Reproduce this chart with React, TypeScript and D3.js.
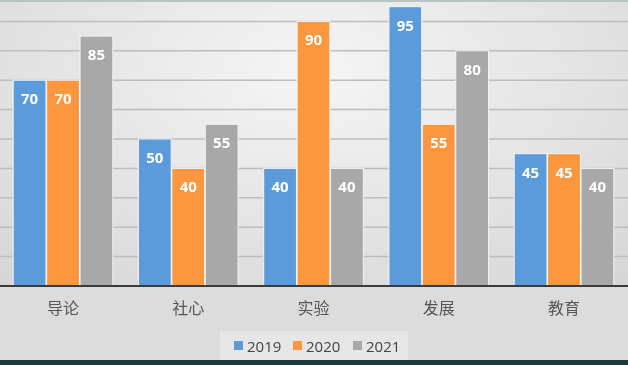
import React, { useEffect, useRef } from "react"
import * as d3 from "d3"

const W = 628
const H = 365

const categories = ["导论", "社心", "实验", "发展", "教育"]
const seriesNames = ["2019", "2020", "2021"]
const values2019 = [70, 50, 40, 95, 45]
const values2020 = [70, 40, 90, 55, 45]
const values2021 = [85, 55, 40, 80, 40]
const gridTicks = [10, 20, 30, 40, 50, 60, 70, 80, 90]

const colors = ["#5B9BDC", "#FC9740", "#A8A8A8"]

const App = () => {
	const svgRef = useRef(null)

	useEffect(() => {
		document.body.style.margin = "0"
		const svg = d3.select(svgRef.current)
		svg.selectAll("*").remove()

		const allSeries = [values2019, values2020, values2021]
		const baseY = 286

		// background
		const defs = svg.append("defs")
		const grad = defs.append("radialGradient")
			.attr("id", "bg")
			.attr("cx", "50%").attr("cy", "20%").attr("r", "75%")
		grad.append("stop").attr("offset", "0%").attr("stop-color", "#f5f5f5")
		grad.append("stop").attr("offset", "100%").attr("stop-color", "#d6d6d6")

		svg.append("rect").attr("width", W).attr("height", H).attr("fill", "url(#bg)")
		svg.append("rect").attr("y", baseY).attr("width", W).attr("height", H - baseY)
			.attr("fill", "#dcdcdc")

		const yScale = d3.scaleLinear().domain([0, 100]).range([baseY, baseY - 294])

		const x0 = d3.scaleBand()
			.domain(categories)
			.range([0, 627])
			.paddingInner(0.194)
			.paddingOuter(0.1)

		const x1 = d3.scaleBand()
			.domain(seriesNames)
			.range([0, x0.bandwidth()])
			.padding(0.02)

		// gridlines
		svg.append("g")
			.selectAll("line")
			.data(gridTicks)
			.join("line")
			.attr("x1", 0)
			.attr("x2", W)
			.attr("y1", (d) => yScale(d))
			.attr("y2", (d) => yScale(d))
			.attr("stroke", "#bdbdbd")
			.attr("stroke-width", 1.5)

		// bars
		const groups = svg.append("g")
			.selectAll("g")
			.data(categories)
			.join("g")
			.attr("transform", (d) => `translate(${x0(d)},0)`)

		groups.each(function (cat, ci) {
			const g = d3.select(this)
			seriesNames.forEach((s, si) => {
				const v = allSeries[si][ci]
				g.append("rect")
					.attr("x", x1(s))
					.attr("y", yScale(v))
					.attr("width", x1.bandwidth())
					.attr("height", baseY - yScale(v))
					.attr("fill", colors[si])
					.attr("stroke", "#f4f4f4")
					.attr("stroke-width", 1)
				g.append("text")
					.attr("x", x1(s) + x1.bandwidth() / 2)
					.attr("y", yScale(v) + 24)
					.attr("text-anchor", "middle")
					.attr("fill", "#ffffff")
					.style("font-family", "'Open Sans', 'DejaVu Sans', sans-serif")
					.style("font-weight", "bold")
					.style("font-size", "15px")
					.text(v)
			})
		})

		// axis
		svg.append("line")
			.attr("x1", 0).attr("x2", W)
			.attr("y1", baseY).attr("y2", baseY)
			.attr("stroke", "#3a3a3a")
			.attr("stroke-width", 2)

		svg.append("g")
			.selectAll("text")
			.data(categories)
			.join("text")
			.attr("x", (d) => x0(d) + x0.bandwidth() / 2)
			.attr("y", 314)
			.attr("text-anchor", "middle")
			.attr("fill", "#555555")
			.style("font-family", "'Noto Sans CJK SC', sans-serif")
			.style("font-size", "16px")
			.text((d) => d)

		// legend
		svg.append("rect")
			.attr("x", 220).attr("y", 331).attr("width", 188).attr("height", 29)
			.attr("fill", "#e6e6e6")
		const legendX = [234, 293, 353]
		const legend = svg.append("g")
			.selectAll("g")
			.data(seriesNames)
			.join("g")
			.attr("transform", (d, i) => `translate(${legendX[i]},346)`)
		legend.append("rect")
			.attr("x", 0).attr("y", -5).attr("width", 9).attr("height", 9)
			.attr("fill", (d, i) => colors[i])
		legend.append("text")
			.attr("x", 13)
			.attr("y", 6)
			.attr("fill", "#444444")
			.style("font-family", "'Open Sans', sans-serif")
			.style("font-size", "15px")
			.text((d) => d)

		// frame edges
		svg.append("rect").attr("x", 0).attr("y", 0).attr("width", W).attr("height", 2)
			.attr("fill", "#b8c4c4")
		svg.append("rect").attr("x", 0).attr("y", 360).attr("width", W).attr("height", 5)
			.attr("fill", "#1f3a3c")
	}, [])

	return (
		<div style={{ position: "fixed", left: 0, top: 0, width: W, height: H }}>
			<svg ref={svgRef} width={W} height={H} style={{ display: "block" }}></svg>
		</div>
	)
}

export default App
